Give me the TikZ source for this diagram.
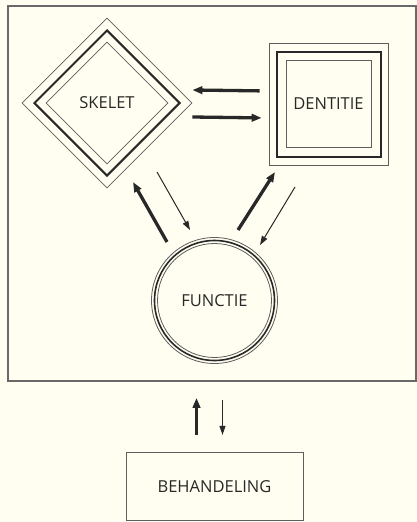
\documentclass[tikz,border=0pt]{standalone}
\usepackage{fontspec}
\setmainfont{Open Sans}
\usetikzlibrary{arrows.meta,shapes.geometric,positioning}
\definecolor{paper}{RGB}{255,254,240}
\definecolor{ink}{RGB}{40,40,40}
\tikzstyle{label text}=[font=\fontsize{16.5}{19}\selectfont, text=ink]
\tikzstyle{thin rim}=[draw=ink!75, line width=0.8pt, inner sep=0pt]
\tikzstyle{thick rim}=[draw=ink, line width=2pt, inner sep=0pt]
\tikzstyle{strong arrow}=[-{Triangle[length=10pt,width=7.5pt]}, line width=3.3pt, draw=ink]
\tikzstyle{weak arrow}=[-{Triangle[length=9pt,width=6pt]}, line width=1pt, draw=ink]

\begin{document}
\begin{tikzpicture}[x=1pt,y=-1pt]
  \fill[paper] (0,0) rectangle (417,522);
  \useasboundingbox (0,0) rectangle (417,522);
  \draw[ink!70, line width=1.2pt] (8,6) rectangle (416,381);

  % skelet
  \node[thin rim, diamond, minimum size=170pt, label text] (skelet) at (107,103) {SKELET};
  \node[thick rim, diamond, minimum size=146pt] (skelet2) at (skelet) {};
  \node[thin rim, diamond, minimum size=122pt] (skelet3) at (skelet) {};

  % dentitie
  \node[thin rim, minimum width=119pt, minimum height=122pt, label text] (dentitie) at (328.5,104) {DENTITIE};
  \node[thick rim, minimum width=104pt, minimum height=105pt] (dentitie2) at (dentitie) {};
  \node[thin rim, minimum width=85pt, minimum height=87pt] (dentitie3) at (dentitie) {};

  % functie
  \node[thin rim, circle, minimum size=126pt, label text] (functie) at (214.5,300.5) {FUNCTIE};
  \node[thick rim, circle, line width=1.6pt, minimum size=120pt] (functie2) at (functie) {};
  \node[thin rim, circle, minimum size=114pt] (functie3) at (functie) {};

  \node[draw=ink!75, line width=0.9pt, minimum width=177pt, minimum height=68pt, label text, below=88pt of functie] (behandeling) {BEHANDELING};

  \draw[strong arrow, shorten <=9pt] ([yshift=13pt]dentitie.west) -- ([yshift=13pt]skelet.east);
  \draw[strong arrow, shorten >=7pt] ([yshift=-14pt]skelet.east) -- ([yshift=-14pt]dentitie.west);

  \coordinate (fs1) at (167,242);
  \coordinate (fs2) at (133,182);
  \coordinate (sf1) at (157,172);
  \coordinate (sf2) at (190,230);
  \coordinate (fd1) at (238,230);
  \coordinate (fd2) at (275,172);
  \coordinate (df1) at (295,187);
  \coordinate (df2) at (260,245);
  \draw[strong arrow] (fs1) -- (fs2);
  \draw[weak arrow] (sf1) -- (sf2);
  \draw[strong arrow] (fd1) -- (fd2);
  \draw[weak arrow] (df1) -- (df2);

  \coordinate (bf1) at ([xshift=-18pt, yshift=17pt]behandeling.north);
  \coordinate (bf2) at ([xshift=-18pt, yshift=54pt]behandeling.north);
  \coordinate (fb1) at ([xshift=8pt, yshift=52pt]behandeling.north);
  \coordinate (fb2) at ([xshift=8pt, yshift=17pt]behandeling.north);
  \draw[strong arrow] (bf1) -- (bf2);
  \draw[weak arrow] (fb1) -- (fb2);
\end{tikzpicture}
\end{document}
